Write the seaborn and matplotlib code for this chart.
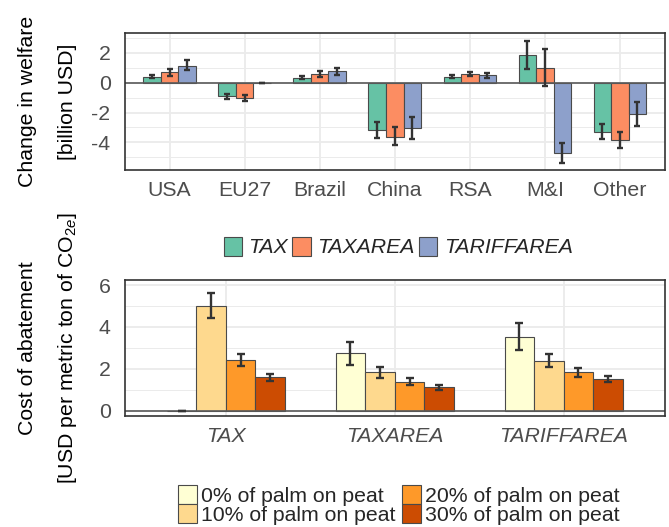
import matplotlib
matplotlib.use("Agg")
import matplotlib.pyplot as plt
from matplotlib.patches import Patch
from matplotlib.transforms import blended_transform_factory
import numpy as np
import pandas as pd
import seaborn as sns

# ---- welfare change by region (billion USD) ----
regions = ["USA", "EU27", "Brazil", "China", "RSA", "M&I", "Other"]
policies = ["TAX", "TAXAREA", "TARIFFAREA"]

tax_val = [0.40, -0.92, 0.35, -3.16, 0.40, 1.84, -3.30]
tax_lo = [0.30, -1.10, 0.25, -3.70, 0.32, 0.90, -3.80]
tax_hi = [0.52, -0.74, 0.48, -2.65, 0.50, 2.80, -2.78]

taxarea_val = [0.70, -1.00, 0.60, -3.63, 0.58, 1.01, -3.84]
taxarea_lo = [0.45, -1.20, 0.40, -4.20, 0.45, -0.22, -4.40]
taxarea_hi = [0.93, -0.83, 0.80, -3.00, 0.72, 2.29, -3.30]

tariff_val = [1.15, -0.02, 0.76, -3.03, 0.50, -4.71, -2.13]
tariff_lo = [0.85, -0.03, 0.50, -3.75, 0.35, -5.40, -2.90]
tariff_hi = [1.50, -0.01, 1.00, -2.30, 0.65, -4.02, -1.30]

welfare_ticks = [-4, -2, 0, 2]
welfare_ticklabels = ["-4", "-2", "0", "2"]

# ---- cost of abatement (USD per metric ton of CO2e) ----
schemes = ["TAX", "TAXAREA", "TARIFFAREA"]
peat_shares = ["0% of palm on peat", "10% of palm on peat",
               "20% of palm on peat", "30% of palm on peat"]

p0_val = [0.00, 2.75, 3.52]
p0_lo = [0.00, 2.20, 2.90]
p0_hi = [0.00, 3.30, 4.19]

p10_val = [5.01, 1.83, 2.39]
p10_lo = [4.43, 1.58, 2.08]
p10_hi = [5.61, 2.10, 2.72]

p20_val = [2.43, 1.39, 1.83]
p20_lo = [2.15, 1.25, 1.60]
p20_hi = [2.70, 1.55, 2.05]

p30_val = [1.61, 1.12, 1.50]
p30_lo = [1.43, 1.00, 1.35]
p30_hi = [1.77, 1.25, 1.66]

cost_ticks = [0, 2, 4, 6]

policy_colors = ["#66C2A5", "#FC8D62", "#8DA0CB"]
peat_colors = ["#FFFFD4", "#FED98E", "#FE9929", "#CC4C02"]

sns.set_style("white")
plt.rcParams["font.family"] = ["Liberation Sans", "DejaVu Sans"]
plt.rcParams["mathtext.fontset"] = "custom"
plt.rcParams["mathtext.rm"] = "Liberation Sans"
plt.rcParams["mathtext.it"] = "Liberation Sans:italic"

FS = 15.3

welfare = pd.DataFrame({
    "region": regions * 3,
    "policy": sum([[p] * len(regions) for p in policies], []),
    "value": tax_val + taxarea_val + tariff_val,
    "lo": tax_lo + taxarea_lo + tariff_lo,
    "hi": tax_hi + taxarea_hi + tariff_hi,
})

cost = pd.DataFrame({
    "scheme": schemes * 4,
    "share": sum([[s] * len(schemes) for s in peat_shares], []),
    "value": p0_val + p10_val + p20_val + p30_val,
    "lo": p0_lo + p10_lo + p20_lo + p30_lo,
    "hi": p0_hi + p10_hi + p20_hi + p30_hi,
})

W, H = 669, 527
fig = plt.figure(figsize=(W / 100, H / 100), dpi=100)
L, R = 124.5, 665
ax1 = fig.add_axes([L / W, 1 - 170 / H, (R - L) / W, (170 - 32.7) / H])
ax2 = fig.add_axes([L / W, 1 - 416 / H, (R - L) / W, (416 - 280) / H])

FRAME = "#333333"
TICKTXT = "#4D4D4D"
GRID = "#EBEBEB"
EDGE = "#4A4A4A"


def add_errorbars(ax, df, cat_col, hue_col, cats, hues, capsize):
    for container, h in zip(ax.containers, hues):
        sub = df[df[hue_col] == h].set_index(cat_col).loc[cats]
        xs = [b.get_x() + b.get_width() / 2 for b in container]
        v = sub["value"].to_numpy()
        yerr = [v - sub["lo"].to_numpy(), sub["hi"].to_numpy() - v]
        ax.errorbar(xs, v, yerr=yerr, fmt="none", ecolor=FRAME,
                    elinewidth=1.7, capsize=capsize, capthick=1.7, zorder=4)


def style_axes(ax, major, minor, xlim, ylim):
    ax.set_xlim(*xlim)
    ax.set_ylim(*ylim)
    ax.set_yticks(major)
    ax.set_yticks(minor, minor=True)
    ax.set_axisbelow(True)
    ax.grid(True, which="major", color=GRID, lw=1.3)
    ax.grid(True, which="minor", axis="y", color=GRID, lw=0.7)
    ax.tick_params(axis="both", which="major", direction="out", length=5,
                   width=1.3, color=FRAME, labelcolor=TICKTXT, labelsize=FS)
    ax.tick_params(axis="x", which="major", pad=3)
    ax.tick_params(axis="y", which="major", pad=5)
    ax.tick_params(axis="y", which="minor", length=0)
    for s in ax.spines.values():
        s.set_visible(True)
        s.set_color(FRAME)
        s.set_linewidth(1.2)
    ax.axhline(0, color="#5A5A5A", lw=1.2, zorder=1.5)
    ax.set_xlabel("")
    ax.set_ylabel("")


# top panel: welfare change
sns.barplot(data=welfare, x="region", y="value", hue="policy",
            order=regions, hue_order=policies, palette=policy_colors,
            width=0.7, errorbar=None, edgecolor=EDGE, linewidth=0.8,
            saturation=1, legend=False, ax=ax1)
add_errorbars(ax1, welfare, "region", "policy", regions, policies, 2.1)
style_axes(ax1, welfare_ticks, [-5, -3, -1, 1, 3], (-0.6, 6.6), (-5.86, 3.36))
ax1.set_yticklabels(welfare_ticklabels)

# bottom panel: cost of abatement
sns.barplot(data=cost, x="scheme", y="value", hue="share",
            order=schemes, hue_order=peat_shares, palette=peat_colors,
            width=0.7, errorbar=None, edgecolor=EDGE, linewidth=0.8,
            saturation=1, legend=False, ax=ax2)
add_errorbars(ax2, cost, "scheme", "share", schemes, peat_shares, 3.1)
style_axes(ax2, cost_ticks, [1, 3, 5], (-0.6, 2.6), (-0.25, 6.24))
for lab in ax2.get_xticklabels():
    lab.set_fontstyle("italic")

# axis titles, two lines each
for ax, lines in [(ax1, ["Change in welfare", "[billion USD]"]),
                  (ax2, ["Cost of abatement", "[USD per metric ton of CO$_{2e}$]"])]:
    tr = blended_transform_factory(fig.transFigure, ax.transAxes)
    fig.text(28 / W, 0.5, lines[0], rotation=90, ha="center", va="center",
             fontsize=FS, transform=tr, color="black")
    fig.text(67.5 / W, 0.5, lines[1], rotation=90, ha="center", va="center",
             fontsize=FS, transform=tr, color="black")

# legends
pol_handles = [Patch(facecolor=c, edgecolor=EDGE, lw=0.8) for c in policy_colors]
leg1 = fig.legend(pol_handles, policies, loc="center", ncol=3,
                  bbox_to_anchor=(398 / W, 1 - 247 / H), frameon=False,
                  fontsize=FS, handlelength=0.87, handleheight=1.0,
                  handletextpad=0.3, columnspacing=0.2, borderpad=0)
for t in leg1.get_texts():
    t.set_fontstyle("italic")

peat_handles = [Patch(facecolor=c, edgecolor=EDGE, lw=0.8) for c in peat_colors]
fig.legend(peat_handles, peat_shares, loc="center", ncol=2,
           bbox_to_anchor=(399 / W, 1 - 505 / H), frameon=False,
           fontsize=FS, handlelength=0.9, handleheight=0.97,
           handletextpad=0.2, columnspacing=0.3, labelspacing=-0.1, borderpad=0)

fig.savefig("out.png", dpi=100)
